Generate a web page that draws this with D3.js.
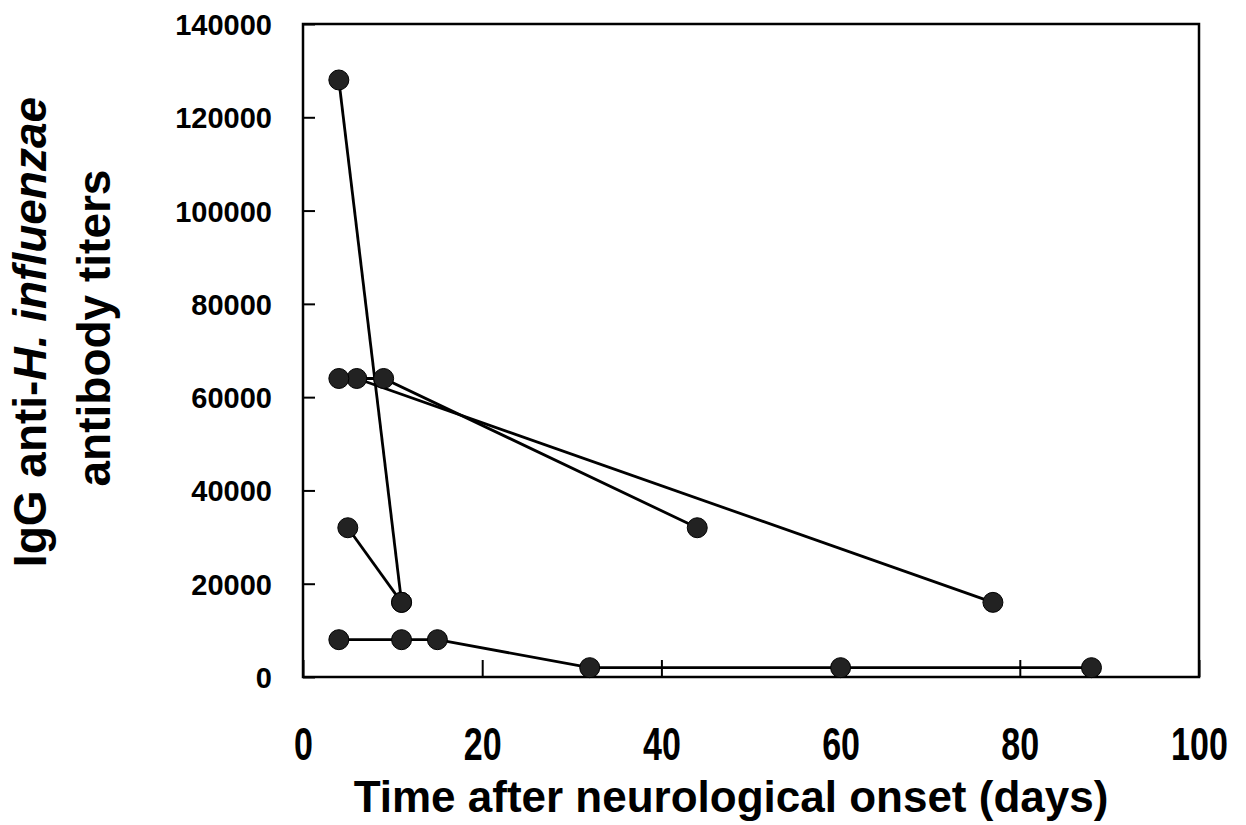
<!DOCTYPE html>
<html>
<head>
<meta charset="utf-8">
<script src="https://cdn.jsdelivr.net/npm/d3@7"></script>
<style>
    body { margin: 0; background: #fff; }
    svg { display: block; font-family: "Liberation Sans", Arial, sans-serif; }
</style>
</head>
<body>
<div class="wrapper"></div>
<script>
// days after onset / IgG titers, one pair of arrays per patient
const days1 = [4, 11];
const titers1 = [128000, 16000];
const days2 = [5, 11];
const titers2 = [32000, 16000];
const days3 = [6, 77];
const titers3 = [64000, 16000];
const days4 = [4, 9, 44];
const titers4 = [64000, 64000, 32000];
const days5 = [4, 11, 15, 32, 60, 88];
const titers5 = [8000, 8000, 8000, 2000, 2000, 2000];

const xTicks = [0, 20, 40, 60, 80, 100];
const yTicks = [0, 20000, 40000, 60000, 80000, 100000, 120000, 140000];

const W = 1246, H = 825;
const margin = {top: 24, right: 47, bottom: 148, left: 303},
    width = W - margin.left - margin.right,
    height = H - margin.top - margin.bottom;

const series = [
    [days1, titers1],
    [days2, titers2],
    [days3, titers3],
    [days4, titers4],
    [days5, titers5]
].map(([d, t]) => d.map((v, i) => ({x: v, y: t[i]})));

const x = d3.scaleLinear().domain([0, 100]).range([0, width]);
const y = d3.scaleLinear().domain([0, 140000]).range([height, 0]);

const svg = d3.select(".wrapper").append("svg")
    .attr("width", W)
    .attr("height", H);

const g = svg.append("g")
    .attr("transform", "translate(" + margin.left + "," + margin.top + ")");

// x axis, ticks point inward
const xAxis = g.append("g")
    .attr("transform", "translate(0," + height + ")")
    .call(d3.axisBottom(x).tickValues(xTicks).tickSize(-17).tickSizeOuter(0).tickFormat(d3.format("d")));
xAxis.select(".domain").remove();
xAxis.selectAll(".tick line").attr("stroke", "#000").attr("stroke-width", 2);
xAxis.selectAll(".tick text")
    .attr("y", 83)
    .attr("dy", 0)
    .attr("transform", "scale(0.74,1)")
    .style("font-size", "46px")
    .style("font-weight", "bold")
    .attr("fill", "#000");

// y axis
const yAxis = g.append("g")
    .call(d3.axisLeft(y).tickValues(yTicks).tickSize(-12).tickSizeOuter(0).tickFormat(d3.format("d")));
yAxis.select(".domain").remove();
yAxis.selectAll(".tick line").attr("stroke", "#000").attr("stroke-width", 2);
yAxis.selectAll(".tick text")
    .attr("x", -31)
    .attr("dy", "0.36em")
    .style("font-size", "29px")
    .style("font-weight", "bold")
    .attr("fill", "#000");

// frame
g.append("rect")
    .attr("width", width)
    .attr("height", height)
    .attr("fill", "none")
    .attr("stroke", "#000")
    .attr("stroke-width", 2.5);

const line = d3.line().x(d => x(d.x)).y(d => y(d.y));

g.selectAll("path.series")
    .data(series)
    .enter().append("path")
    .attr("class", "series")
    .attr("d", line)
    .attr("fill", "none")
    .attr("stroke", "#000")
    .attr("stroke-width", 2.8);

g.selectAll("circle.pt")
    .data(series.flat())
    .enter().append("circle")
    .attr("class", "pt")
    .attr("cx", d => x(d.x))
    .attr("cy", d => y(d.y))
    .attr("r", 10)
    .attr("fill", "#222")
    .attr("stroke", "#000")
    .attr("stroke-width", 1);

// axis titles
svg.append("text")
    .attr("x", 731)
    .attr("y", 812)
    .attr("text-anchor", "middle")
    .style("font-size", "44px")
    .style("font-weight", "bold")
    .text("Time after neurological onset (days)");

const yTitle = svg.append("text")
    .attr("transform", "translate(46,332) rotate(-90)")
    .attr("text-anchor", "middle")
    .style("font-size", "46px")
    .style("font-weight", "bold");
yTitle.append("tspan").text("IgG anti-");
yTitle.append("tspan").style("font-style", "italic").text("H. influenzae");

svg.append("text")
    .attr("transform", "translate(110,328) rotate(-90)")
    .attr("text-anchor", "middle")
    .style("font-size", "46px")
    .style("font-weight", "bold")
    .text("antibody titers");
</script>
</body>
</html>
